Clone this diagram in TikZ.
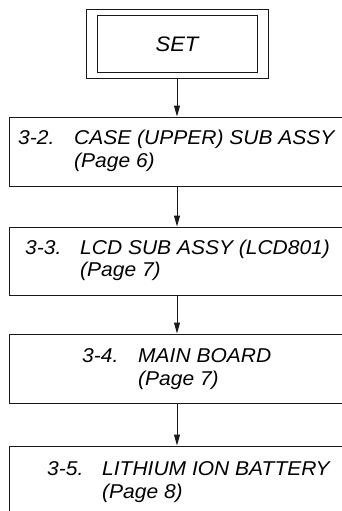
\documentclass[tikz,border=0pt]{standalone}
\usepackage{fontspec}
\setmainfont{Liberation Sans}
\newfontfamily\labfont[FakeStretch=1.05]{Liberation Sans}
\usetikzlibrary{arrows.meta}
\begin{document}
\begin{tikzpicture}[x=1pt,y=-1pt,
  line/.style={draw=black!90,line width=1pt},
  stepbox/.style={line,rectangle,minimum width=336pt,inner sep=0pt},
  lbl/.style={anchor=base west,inner sep=0pt,font=\labfont\fontsize{20}{22}\selectfont\itshape,text=black},
  conn/.style={line,-{Triangle[length=11pt,width=6pt]}}]
\useasboundingbox (0,0) rectangle (342,511);
\clip (0,0) rectangle (342,511);
% SET double box
\node[line,rectangle,minimum width=182pt,minimum height=68pt,inner sep=0pt] (setout) at (177,44) {};
\node[line,rectangle,minimum width=160pt,minimum height=56pt,inner sep=0pt,font=\labfont\fontsize{21}{23}\selectfont\itshape,text=black] (setin) at (177,44) {SET};
% step boxes
\node[stepbox,minimum height=69pt] (b1) at (177,151.5) {};
\node[stepbox,minimum height=68pt] (b2) at (177,261) {};
\node[stepbox,minimum height=69pt] (b3) at (177,368.5) {};
\node[stepbox,minimum height=80pt] (b4) at (177,486) {};
% labels
\node[lbl] (n1) at (18,144) {3-2.};
\node[lbl] (t1) at (74,144) {CASE (UPPER) SUB ASSY};
\node[lbl] (p1) at (74,167) {(Page 6)};
\node[lbl] (n2) at (25,254) {3-3.};
\node[lbl] (t2) at (80,254) {LCD SUB ASSY (LCD801)};
\node[lbl] (p2) at (80,276) {(Page 7)};
\node[lbl] (n3) at (82,362) {3-4.};
\node[lbl] (t3) at (138,362) {MAIN BOARD};
\node[lbl] (p3) at (138,385) {(Page 7)};
\node[lbl] (n4) at (47,475) {3-5.};
\node[lbl] (t4) at (102,475) {LITHIUM ION BATTERY};
\node[lbl] (p4) at (102,498) {(Page 8)};
% connectors
\draw[conn] (setout.south) -- (b1.north);
\draw[conn] (b1.south) -- (b2.north);
\draw[conn] (b2.south) -- (b3.north);
\draw[conn] (b3.south) -- (b4.north);
\end{tikzpicture}
\end{document}
